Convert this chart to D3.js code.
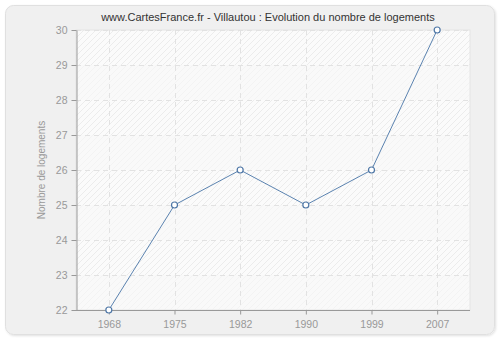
<!DOCTYPE html>
<html><head><meta charset="utf-8">
<script src="https://cdn.jsdelivr.net/npm/d3@7"></script>
<style>body{margin:0;background:#fff}svg{display:block}</style>
</head><body>
<script>
const title = "www.CartesFrance.fr - Villautou : Evolution du nombre de logements";
const yLabel = "Nombre de logements";
const years = ["1968","1975","1982","1990","1999","2007"];
const values = [22,25,26,25,26,30];
const yTicks = [22,23,24,25,26,27,28,29,30];

const W=500,H=340, m={l:76,r:30,t:30,b:30};
const svg=d3.select("body").append("svg").attr("width",W).attr("height",H)
  .style("font-family","'Liberation Sans', Arial, sans-serif");
const defs=svg.append("defs");
const pat=defs.append("pattern").attr("id","hatch").attr("patternUnits","userSpaceOnUse")
  .attr("width",6).attr("height",6);
pat.append("rect").attr("width",6).attr("height",6).attr("fill","#fbfbfb");
pat.append("path").attr("d","M0,6 L6,0 M-1,1 L1,-1 M5,7 L7,5").attr("stroke","#e8e8e8").attr("stroke-width",0.8);
const f=defs.append("filter").attr("id","sh");
f.append("feDropShadow").attr("dx",1).attr("dy",1).attr("stdDeviation",1.2).attr("flood-color","#000").attr("flood-opacity",0.12);

svg.append("rect").attr("x",5.5).attr("y",5.5).attr("width",489).attr("height",329).attr("rx",8)
  .attr("fill","#f0f0f0").attr("stroke","#e0e0e0").attr("filter","url(#sh)");

const x=d3.scalePoint().domain(years).range([m.l,W-m.r]).padding(0.5);
const y=d3.scaleLinear().domain([22,30]).range([H-m.b,m.t]);

svg.append("rect").attr("x",m.l).attr("y",m.t).attr("width",W-m.r-m.l).attr("height",H-m.b-m.t).attr("fill","url(#hatch)");
const g=svg.append("g");
for(let i=0;i<yTicks.length-1;i++){
  if(i%2===0){
    g.append("rect").attr("x",m.l).attr("width",W-m.r-m.l)
      .attr("y",y(yTicks[i]+1)).attr("height",y(yTicks[i])-y(yTicks[i]+1)).attr("fill","#f8f8f8").attr("opacity",0.6);
  }
}
svg.append("rect").attr("x",m.l).attr("y",m.t).attr("width",W-m.r-m.l).attr("height",H-m.b-m.t)
  .attr("fill","none").attr("stroke","#e4e4e4");

svg.append("g").selectAll("line").data(yTicks.slice(1)).join("line")
  .attr("x1",m.l).attr("x2",W-m.r).attr("y1",d=>y(d)+0.5).attr("y2",d=>y(d)+0.5)
  .attr("stroke","#e2e2e2").attr("stroke-dasharray","5,4");
svg.append("g").selectAll("line").data(years).join("line")
  .attr("x1",d=>Math.round(x(d))+0.5).attr("x2",d=>Math.round(x(d))+0.5).attr("y1",m.t).attr("y2",H-m.b)
  .attr("stroke","#e2e2e2").attr("stroke-dasharray","5,4");

const ya=svg.append("g").attr("transform",`translate(${m.l+0.5},0)`)
  .call(d3.axisLeft(y).tickValues(yTicks).tickSize(5).tickSizeOuter(0).tickPadding(4));
const xa=svg.append("g").attr("transform",`translate(0,${H-m.b+0.5})`)
  .call(d3.axisBottom(x).tickSize(5).tickSizeOuter(0).tickPadding(5));
[ya,xa].forEach(a=>{
  a.select(".domain").attr("stroke","#999");
  a.selectAll(".tick line").attr("stroke","#999");
  a.selectAll("text").attr("fill","#999").style("font-size","10.5px").style("font-family","'Liberation Sans', Arial, sans-serif");
});
xa.select(".domain").attr("d",`M${m.l},0H${W-m.r}`);
xa.selectAll(".tick line").attr("y2",4);

svg.append("text").attr("x",W/2+18).attr("y",21).attr("text-anchor","middle")
  .style("font-size","11px").attr("fill","#333").text(title);
svg.append("text").attr("transform",`translate(45,${(m.t+H-m.b)/2}) rotate(-90)`)
  .attr("text-anchor","middle").style("font-size","10px").attr("fill","#999").text(yLabel);

const line=d3.line().x((d,i)=>x(years[i])).y(d=>y(d));
svg.append("path").datum(values).attr("d",line).attr("fill","none").attr("stroke","#5b83b0").attr("stroke-width",1);
svg.append("g").selectAll("circle").data(values).join("circle")
  .attr("cx",(d,i)=>x(years[i])).attr("cy",d=>y(d)).attr("r",3)
  .attr("fill","#fff").attr("stroke","#4f77a6").attr("stroke-width",1.2);
</script>
</body></html>
